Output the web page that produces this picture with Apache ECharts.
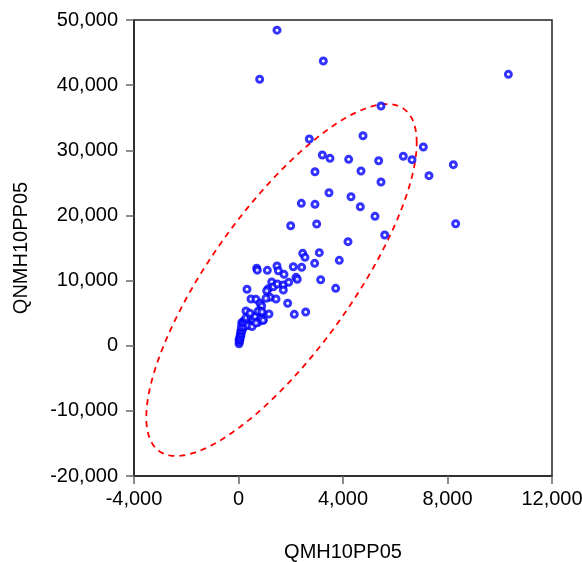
<!DOCTYPE html>
<html>
<head>
<meta charset="utf-8">
<script src="https://cdn.jsdelivr.net/npm/echarts@6/dist/echarts.min.js"></script>
<style>
html,body{margin:0;padding:0;background:#fff;}
#chart{width:582px;height:562px;}
</style>
</head>
<body>
<div id="chart"></div>
<script>
// Data: [QMH10PP05, QNMH10PP05]
const points = [
  [1474,48440],[810,40900],[3247,43700],[10330,41660],[5455,36800],
  [2711,31730],[4766,32240],[7075,30500],[3209,29270],[3502,28760],[4217,28610],[5366,28400],
  [6308,29080],[6641,28560],[8224,27790],[2928,26710],[4689,26820],[7292,26100],[5455,25130],
  [3464,23490],[4306,22870],[2405,21860],[2928,21700],[4663,21340],[5225,19860],[8313,18730],
  [2993,18680],[1998,18420],[5596,16990],[4191,15970],
  [2457,14180],[2545,13570],[3093,14280],[2419,12040],[2916,12650],[3858,13110],[3146,10130],
  [3720,8810],[2572,5170],[2200,10500],[2250,10200],
  [2098,12130],[1474,12240],[697,11900],[720,11600],[1104,11570],[1525,11510],[1742,10960],
  [325,8660],[1271,9780],[1141,8750],[1079,8440],[1332,9060],[1485,9470],[1715,9320],[1921,9730],[1715,8550],
  [1206,7430],[1053,7280],[1435,7170],[478,7170],[670,7120],[823,6510],[888,6090],[1883,6510],
  [2136,4820],[1167,4870],[287,5330],
  [185,3740],[122,3530],[823,5330],[888,5070],[697,4450],[949,3950],
  [20,300],[40,600],[20,900],[60,1000],[50,1300],[90,1500],[70,1800],[110,1950],[90,2300],
  [140,2400],[170,2700],[110,2900],[210,3000],[180,3500],[250,3600],[320,3800],[400,4100],
  [290,4300],[480,4400],[560,3900],[630,4500],[750,3600],[870,4200],[940,3900],[370,3100],
  [520,2950],[670,3500],[440,5000],[750,5300],[900,5200]
];
// Confidence ellipse parameters
const ellipseCenter = [1646, 10085];
const ellipseHalfX = 5176;
const ellipseHalfY = 27015;
const ellipseCorr = 0.78;

const xTicks = [-4000, 0, 4000, 8000, 12000];
const yTicks = [-20000, -10000, 0, 10000, 20000, 30000, 40000, 50000];

const ellipse = [];
for (let i = 0; i <= 360; i++) {
  const t = i * Math.PI / 180;
  const x = ellipseCenter[0] + ellipseHalfX * Math.cos(t);
  const y = ellipseCenter[1] + ellipseHalfY * (ellipseCorr * Math.cos(t) + Math.sqrt(1 - ellipseCorr * ellipseCorr) * Math.sin(t));
  ellipse.push([x, y]);
}

const fmt = v => Number(v).toLocaleString('en-US');
const font = 'Liberation Sans, Arial, sans-serif';

const chart = echarts.init(document.getElementById('chart'), null, {renderer: 'canvas'});
chart.setOption({
  animation: false,
  backgroundColor: '#ffffff',
  grid: {left: 134, top: 20, right: 30, bottom: 86, containLabel: false, outerBoundsMode: 'none',
         show: true, borderColor: '#222', borderWidth: 1.5, backgroundColor: 'transparent'},
  xAxis: {
    type: 'value', min: xTicks[0], max: xTicks[xTicks.length - 1], interval: 4000,
    name: 'QMH10PP05', nameLocation: 'middle', nameGap: 66,
    nameTextStyle: {fontFamily: font, fontSize: 20, color: '#000'},
    axisLine: {show: true, onZero: false, lineStyle: {color: '#222', width: 1.5}},
    axisTick: {show: true, inside: false, length: 8, lineStyle: {color: '#666', width: 1.5}},
    axisLabel: {formatter: fmt, fontFamily: font, fontSize: 20, color: '#000', margin: 13},
    splitLine: {show: false}
  },
  yAxis: {
    type: 'value', min: yTicks[0], max: yTicks[yTicks.length - 1], interval: 10000,
    name: 'QNMH10PP05', nameLocation: 'middle', nameGap: 103,
    nameTextStyle: {fontFamily: font, fontSize: 20, color: '#000'},
    axisLine: {show: true, onZero: false, lineStyle: {color: '#222', width: 1.5}},
    axisTick: {show: true, inside: false, length: 8, lineStyle: {color: '#666', width: 1.5}},
    axisLabel: {formatter: fmt, fontFamily: font, fontSize: 20, color: '#000', margin: 16},
    splitLine: {show: false}
  },
  series: [
    {
      type: 'line', data: ellipse, showSymbol: false, smooth: false, silent: true,
      lineStyle: {color: '#ff0000', width: 1.8, type: [6, 5]}, z: 1
    },
    {
      type: 'scatter', data: points, symbol: 'circle', symbolSize: 6,
      itemStyle: {color: '#ffffff', borderColor: '#0000ff', borderWidth: 3}, z: 2
    }
  ]
});
</script>
</body>
</html>
